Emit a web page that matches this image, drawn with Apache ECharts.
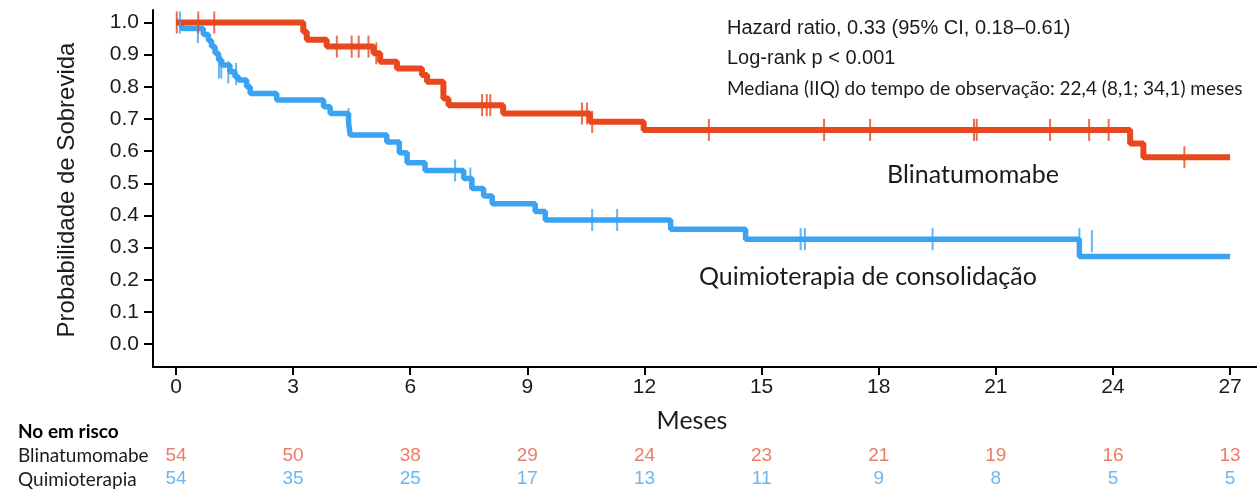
<!DOCTYPE html>
<html>
<head>
<meta charset="utf-8">
<script src="https://cdn.jsdelivr.net/npm/echarts@6/dist/echarts.min.js"></script>
<style>
  html, body { margin: 0; padding: 0; background: #ffffff; }
  #chart { width: 1257px; height: 491px; }
</style>
</head>
<body>
<div id="chart"></div>
<script>
// Kaplan–Meier steps: [month, survival probability after the event]
const blinaSteps = [
  [0, 1.0], [3.26, 0.971], [3.35, 0.946], [3.86, 0.925], [5.06, 0.904],
  [5.23, 0.878], [5.66, 0.857], [6.30, 0.837], [6.43, 0.816], [6.85, 0.764],
  [6.98, 0.743], [8.38, 0.717], [10.6, 0.691], [11.98, 0.666], [24.44, 0.624],
  [24.78, 0.581], [27.0, 0.581]
];
const quimioSteps = [
  [0, 1.0], [0.15, 0.981], [0.70, 0.963], [0.83, 0.944], [0.91, 0.925],
  [1.0, 0.904], [1.09, 0.883], [1.17, 0.868], [1.38, 0.847], [1.51, 0.831],
  [1.60, 0.821], [1.81, 0.800], [1.90, 0.779], [2.58, 0.759], [3.78, 0.738],
  [3.95, 0.717], [4.42, 0.690], [4.46, 0.650], [5.40, 0.628], [5.72, 0.595],
  [5.92, 0.564], [6.38, 0.540], [7.37, 0.515], [7.58, 0.484], [7.88, 0.460],
  [8.10, 0.436], [9.20, 0.412], [9.46, 0.386], [12.67, 0.357], [14.59, 0.326],
  [23.14, 0.272], [27.0, 0.272]
];
// Censored observations: [month, survival]
const blinaCensored = [
  [0.02, 1.0], [0.57, 1.0], [0.98, 1.0], [4.12, 0.925], [4.50, 0.925],
  [4.68, 0.925], [4.93, 0.925], [5.13, 0.904], [7.84, 0.743], [7.96, 0.743],
  [8.05, 0.743], [10.40, 0.717], [10.53, 0.717], [10.66, 0.691], [13.65, 0.666],
  [16.60, 0.666], [17.78, 0.666], [20.44, 0.666], [20.51, 0.666], [22.39, 0.666],
  [23.39, 0.666], [23.89, 0.666], [25.83, 0.581]
];
const quimioCensored = [
  [0.10, 1.0], [0.56, 0.97], [1.10, 0.86], [1.16, 0.86], [1.34, 0.845],
  [1.54, 0.84], [4.42, 0.70], [7.15, 0.540], [7.54, 0.515], [10.66, 0.386],
  [11.30, 0.386], [16.00, 0.326], [16.11, 0.326], [19.38, 0.326], [23.14, 0.326],
  [23.46, 0.32]
];
// Numbers at risk
const riskMonths = [0, 3, 6, 9, 12, 15, 18, 21, 24, 27];
const riskBlina  = [54, 50, 38, 29, 24, 23, 21, 19, 16, 13];
const riskQuimio = [54, 35, 25, 17, 13, 11, 9, 8, 5, 5];
const yTicks = [0, 0.1, 0.2, 0.3, 0.4, 0.5, 0.6, 0.7, 0.8, 0.9, 1.0];
const xTicks = riskMonths;
const groupNames = ['Blinatumomabe', 'Quimioterapia'];

const RED = '#E8481E';
const BLUE = '#3AA3F2';
const RED_TXT = '#E85A3F';
const BLUE_TXT = '#4AA5EA';
const ARIAL = 'Liberation Sans, Arial, sans-serif';
const HUMAN = 'Lato, "Open Sans", sans-serif';
const INK = '#1b1b1b';

const X_MIN = -0.589, X_MAX = 27.69;

const chart = echarts.init(document.getElementById('chart'), null, { renderer: 'canvas' });

const censorSeries = (data, color) => ({
  type: 'scatter',
  xAxisIndex: 0, yAxisIndex: 0,
  data: data,
  symbol: 'rect',
  symbolSize: [2, 22],
  itemStyle: { color: color },
  silent: true,
  z: 4
});

const riskSeries = (values, row, color) => ({
  type: 'scatter',
  xAxisIndex: 1, yAxisIndex: 1,
  data: riskMonths.map((m, i) => [m, row, values[i]]),
  symbolSize: 0,
  itemStyle: { color: 'transparent' },
  label: {
    show: true, position: 'inside',
    formatter: p => String(p.data[2]),
    color: color, fontFamily: ARIAL, fontSize: 19
  },
  silent: true
});

const txt = (x, y, text, font, extra, rotation) => ({
  type: 'text', x: x, y: y, rotation: rotation || 0,
  style: Object.assign({ text: text, font: font, fill: INK,
                         textAlign: 'left', textVerticalAlign: 'middle' }, extra || {})
});

chart.setOption({
  animation: false,
  backgroundColor: '#ffffff',
  grid: [
    { left: 153, right: 0, top: 10, height: 357 },
    { left: 153, right: 0, top: 444, height: 48 }
  ],
  xAxis: [
    {
      type: 'value', gridIndex: 0, min: X_MIN, max: X_MAX,
      splitLine: { show: false },
      axisLine: { show: true, onZero: false, lineStyle: { color: '#000', width: 2 } },
      axisTick: { show: true, customValues: xTicks, length: 8, lineStyle: { color: '#000', width: 2 } },
      axisLabel: { customValues: xTicks, margin: 10, fontFamily: ARIAL, fontSize: 21, color: INK }
    },
    { type: 'value', gridIndex: 1, min: X_MIN, max: X_MAX, show: false }
  ],
  yAxis: [
    {
      type: 'value', gridIndex: 0, min: -0.0715, max: 1.0389,
      splitLine: { show: false },
      axisLine: { show: true, onZero: false, lineStyle: { color: '#000', width: 2 } },
      axisTick: { show: true, customValues: yTicks, length: 9, lineStyle: { color: '#000', width: 2 } },
      axisLabel: {
        customValues: yTicks, margin: 14, fontFamily: ARIAL, fontSize: 21, color: INK,
        formatter: v => v.toFixed(1)
      }
    },
    { type: 'category', gridIndex: 1, data: groupNames, inverse: true, show: false }
  ],
  series: [
    {
      name: 'Quimioterapia de consolidação', type: 'line', step: 'end',
      xAxisIndex: 0, yAxisIndex: 0, data: quimioSteps, showSymbol: false,
      lineStyle: { color: BLUE, width: 5.5 }, z: 2, silent: true
    },
    {
      name: 'Blinatumomabe', type: 'line', step: 'end',
      xAxisIndex: 0, yAxisIndex: 0, data: blinaSteps, showSymbol: false,
      lineStyle: { color: RED, width: 6 }, z: 3, silent: true
    },
    censorSeries(quimioCensored, BLUE),
    censorSeries(blinaCensored, RED),
    riskSeries(riskBlina, 0, RED_TXT),
    riskSeries(riskQuimio, 1, BLUE_TXT)
  ],
  graphic: [
    // y-axis title, reading bottom-to-top
    txt(67, 190, 'Probabilidade de Sobrevida', '24px ' + ARIAL,
        { textAlign: 'center' }, Math.PI / 2),
    txt(692, 421, 'Meses', '25px ' + HUMAN, { textAlign: 'center' }),
    txt(727, 28, 'Hazard ratio, 0.33 (95% CI, 0.18–0.61)', '20px ' + ARIAL),
    txt(727, 58, 'Log-rank p < 0.001', '20px ' + ARIAL),
    txt(727, 89, 'Mediana (IIQ) do tempo de observação: 22,4 (8,1; 34,1) meses', '19px ' + HUMAN),
    txt(887, 175, 'Blinatumomabe', '25px ' + HUMAN),
    txt(699, 277, 'Quimioterapia de consolidação', '25px ' + HUMAN),
    txt(18, 432, 'No em risco', 'bold 19px ' + HUMAN, { fill: '#000' }),
    txt(18, 456, groupNames[0], '19px ' + HUMAN),
    txt(18, 480, groupNames[1], '19px ' + HUMAN)
  ]
});
</script>
</body>
</html>
